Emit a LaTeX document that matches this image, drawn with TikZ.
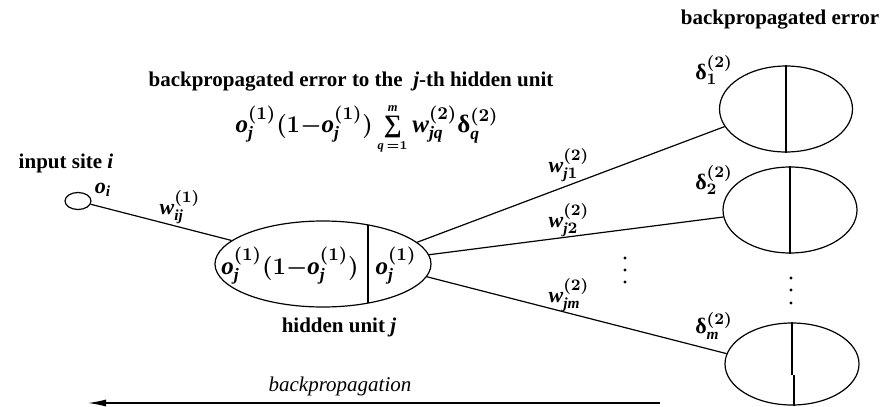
\documentclass[tikz,border=0pt]{standalone}
\usepackage{fontspec}
\setmainfont{Liberation Serif}
\usetikzlibrary{shapes.geometric,arrows.meta}
\newcommand\myo{\mathit{o}}
\newcommand\myw{\mathit{w}}
\newcommand\myd{\mbox{δ}}
\newcommand\mysum{\mathop{\mbox{∑}}}
\begin{document}
\begin{tikzpicture}[x=0.5pt,y=-0.5pt,
  wire/.style={line width=0.6pt},
  unit/.style={draw,ellipse,line width=0.6pt,inner sep=0pt},
  lbl/.style={font=\bfseries\fontsize{10.5}{12}\selectfont,inner sep=0pt},
  mlbl/.style={font=\bfseries\boldmath\fontsize{11}{12}\selectfont,inner sep=0pt},
  big/.style={font=\bfseries\boldmath\fontsize{12.5}{14}\selectfont,inner sep=0pt}]
\useasboundingbox (0,0) rectangle (886,406);
% units
\node[unit,minimum width=13pt,minimum height=8.5pt] (in) at (78,201) {};
\node[unit,minimum width=108pt,minimum height=43pt] (h) at (323,264) {};
\node[unit,minimum width=66.5pt,minimum height=43pt] (o1) at (786,109) {};
\node[unit,minimum width=67pt,minimum height=43pt] (o2) at (790,210) {};
\node[unit,minimum width=67pt,minimum height=41pt] (om) at (792,364) {};
% dividers
\draw[wire] (368,225) coordinate (hd1) -- (368,303) coordinate (hd2);
\draw[wire] (o1.north) -- (o1.south);
\draw[wire] (o2.north) -- (o2.south);
\draw[wire] (om.north) -- (792,375) coordinate (omj);
\draw[wire] (794,375) -- (om.south -| 794,0);
% connectors
\draw[wire] (in) -- (h);
\draw[wire] (h.13) -- (o1.196);
\draw[wire] (h.5) -- (o2.186);
\draw[wire] (h.-7) -- (om.171);
% arrow
\coordinate (as) at (660,403);
\coordinate (ae) at (88,403);
\draw[wire,-{Latex[length=9pt,width=3.5pt]}] (as) -- (ae);
% texts
\node[lbl] (tin) at (66,163) {input site \textit{i}};
\node[mlbl] (toi) at (103,190) {$\myo_{\mathit{i}}$};
\node[mlbl] (twij) at (180,207) {$\myw_{\mathit{ij}}^{(1)}$};
\node[big] (hl) at (290,266) {$\myo_{\mathit{j}}^{(1)}(1{-}\myo_{\mathit{j}}^{(1)})$};
\node[big] (hr) at (396,266) {$\myo_{\mathit{j}}^{(1)}$};
\node[lbl] (thu) at (339,327) {hidden unit \textit{j}};
\node[lbl] (thead) at (351,82) {backpropagated error to the \ \textit{j}-th hidden unit};
\node[big] (tform) at (367,129) {$\myo_{\mathit{j}}^{(1)}(1{-}\myo_{\mathit{j}}^{(1)})\mysum\limits_{\scriptscriptstyle\mathit{q}\,=1}^{\scriptscriptstyle\mathit{m}}\myw_{\mathit{jq}}^{(2)}\myd_{\mathit{q}}^{(2)}$};
\node[lbl] (tbe) at (780,20) {backpropagated error};
\node[mlbl] (tw1) at (569,165) {$\myw_{\mathit{j}1}^{(2)}$};
\node[mlbl] (tw2) at (569,220) {$\myw_{\mathit{j}2}^{(2)}$};
\node[mlbl] (twm) at (569,295) {$\myw_{\mathit{jm}}^{(2)}$};
\node[mlbl] (td1) at (714,70) {$\myd_{1}^{(2)}$};
\node[mlbl] (td2) at (714,180) {$\myd_{2}^{(2)}$};
\node[mlbl] (tdm) at (714,326) {$\myd_{\mathit{m}}^{(2)}$};
\node[lbl,font=\itshape\fontsize{10.5}{12}\selectfont] (tbp) at (340,386) {backpropagation};
% dots
\foreach \y in {258,270,282} \fill (625,\y) circle[radius=1.6];
\foreach \y in {278,290,303} \fill (791,\y) circle[radius=1.6];
\end{tikzpicture}
\end{document}
